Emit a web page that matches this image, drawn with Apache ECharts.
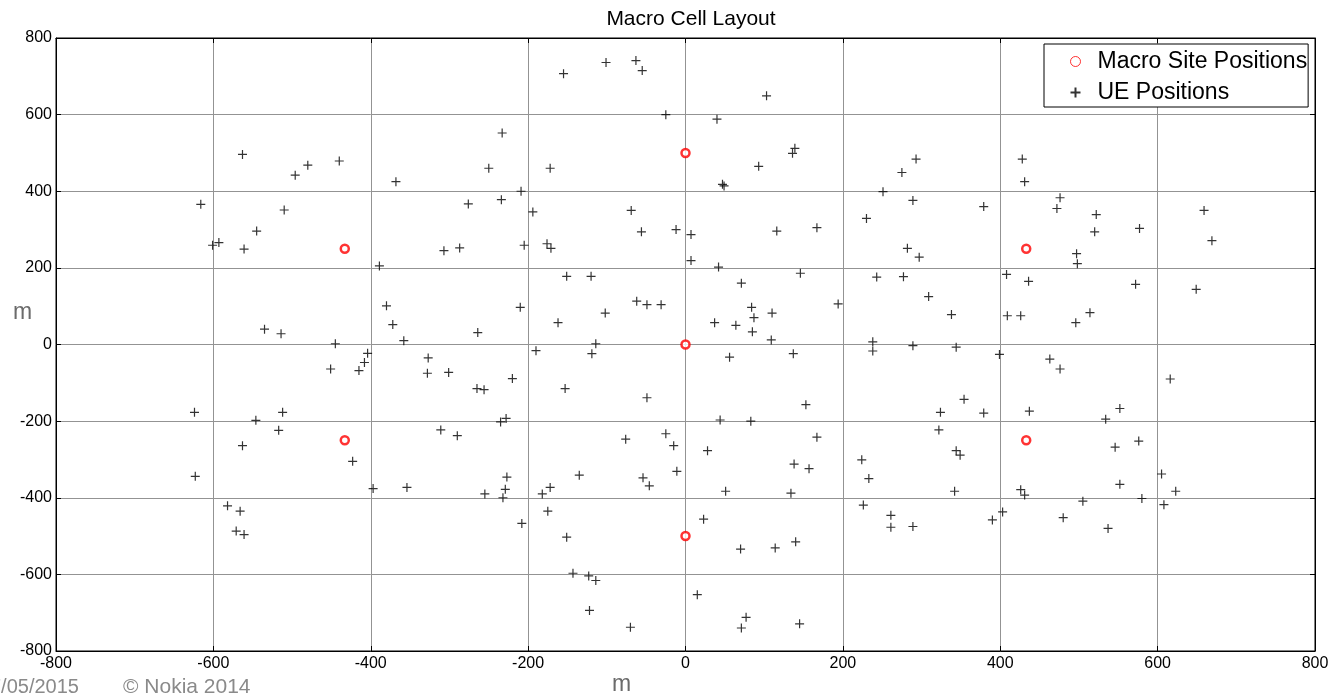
<!DOCTYPE html>
<html>
<head>
<meta charset="utf-8">
<style>
  html, body { margin: 0; padding: 0; background: #fff; }
  #chart { width: 1332px; height: 694px; }
</style>
<script src="https://cdn.jsdelivr.net/npm/echarts@6/dist/echarts.min.js"></script>
</head>
<body>
<div id="chart"></div>
<script>
// Macro site positions (m)
const siteX = [0, 0, 0, 433, 433, -433, -433];
const siteY = [0, 500, -500, 250, -250, 250, -250];

// UE positions (m)
const ueX = [
  -563, -480, -496, -440, -616, -510, -545, -601, -593, -561, -535, -514, -445,
  -101, -63, -55, -155, -25, -233, -250, -172, -368, -209, -276, -234, -194, -69, -56, -12,
  -307, -287, -205, -176, -171, -389, -151, -120, -380, -210, -62, -49, -31, -102, -372, -162,
  -264, -358, -114,
  7, 7, 103, 40, 139, 136, 93, 47, 49, 116, 167, 42, 71, 146, 84, 87, 110, 37, 64, 85, 109, 194,
  293, 275, 251, 289, 379, 230, 282, 297, 243, 277, 309, 338, 238, 238, 289, 344, 399,
  428, 431, 476, 472, 522, 520, 577, 659, 669, 497, 498, 408, 436, 572, 649, 409, 426, 514, 496,
  -404, -408, -415, -451, -624, -546, -512, -517, -563, -423, -397, -623, -582, -566, -571, -561,
  -327, -328, -301, -265, -256, -220, -235, -228, -311, -290, -354, -255, -227, -229, -232,
  -190, -119, -153, -49, -76, -25, -15, -11, -135, -54, -46, -172, -182, -175, -208, -151,
  -143, -123, -114, -122, -70,
  56, 137, 153, 44, 83, 167, 28, 138, 157, 51, 134, 23, 70, 114, 140, 15, 77, 71, 145,
  324, 354, 379, 322, 344, 349, 224, 233, 342, 226, 261, 261, 289, 390, 403,
  463, 476, 616, 437, 552, 534, 576, 546, 605, 623, 426, 431, 552, 505, 580, 608, 480, 537
];
const ueY = [
  496, 468, 442, 479, 366, 351, 296, 259, 266, 249, 40, 28, 2,
  736, 741, 715, 707, 600, 552, 460, 460, 425, 400, 367, 378, 346, 350, 294, 300,
  245, 252, 259, 263, 251, 205, 178, 178, 101, 97, 113, 104, 104, 82, 52, 57,
  31, 10, 2,
  287, 219, 649, 588, 512, 499, 465, 418, 414, 296, 305, 202, 160, 186, 97, 70, 82, 57, 50, 33, 12, 106,
  484, 449, 399, 376, 360, 329, 251, 228, 176, 177, 125, 78, 7, -17, -3, -7, -26,
  484, 425, 383, 355, 339, 294, 303, 350, 271, 237, 211, 183, 165, 157, 144, 75, 75, 83, 57,
  -23, -47, -68, -64, -177, -198, -177, -224, -264, -305, -376, -344, -421, -435, -487, -496,
  -35, -75, -73, -115, -118, -89, -202, -193, -223, -238, -373, -390, -346, -378, -400,
  -16, -24, -115, -139, -247, -233, -264, -331, -341, -348, -369, -373, -390, -435, -467, -503,
  -597, -604, -616, -694, -738,
  -33, -24, -157, -197, -200, -242, -277, -312, -324, -383, -388, -456, -534, -531, -515, -653, -712, -740, -729,
  -177, -143, -179, -223, -277, -289, -301, -350, -383, -419, -446, -477, -475, -458, -437,
  -38, -64, -90, -174, -167, -195, -252, -268, -338, -383, -379, -393, -365, -409, -402, -418, -452, -480
];

// Axis range and tick spacing
const axisMin = -800;
const axisMax = 800;
const tickStep = 200;

const siteData = siteX.map((x, i) => [x, siteY[i]]);
const ueData = ueX.map((x, i) => [x, ueY[i]]);

const FONT = '"Liberation Sans", Arial, sans-serif';
const plusSymbol = 'path://M0,5L10,5M5,0L5,10';

const chart = echarts.init(document.getElementById('chart'), null, { renderer: 'canvas' });

function mainAxis(position, showLabels) {
  return {
    type: 'value',
    position: position,
    min: axisMin,
    max: axisMax,
    interval: tickStep,
    axisLine: { show: true, onZero: false, lineStyle: { color: '#000', width: 1 } },
    axisTick: { show: true, inside: true, length: 5, lineStyle: { color: '#000', width: 1 } },
    axisLabel: {
      show: showLabels,
      color: '#000',
      fontFamily: FONT,
      fontSize: 16
    },
    splitLine: { show: showLabels, lineStyle: { color: '#939393', width: 1 } }
  };
}

const xBottom = mainAxis('bottom', true);
xBottom.axisLabel.margin = 5;
const yLeft = mainAxis('left', true);
yLeft.axisLabel.margin = 4;

chart.setOption({
  animation: false,
  backgroundColor: '#fff',
  title: {
    text: 'Macro Cell Layout',
    left: 686,
    textAlign: 'center',
    top: 4,
    textStyle: { color: '#000', fontFamily: FONT, fontSize: 21, fontWeight: 'normal' }
  },
  grid: {
    left: 56, right: 17, top: 38, bottom: 43,
    show: true, borderColor: '#000', borderWidth: 1, backgroundColor: '#fff'
  },
  xAxis: [xBottom, mainAxis('top', false)],
  yAxis: [yLeft, mainAxis('right', false)],
  legend: {
    orient: 'vertical',
    left: 1044,
    top: 44,
    padding: [5, 1, 2, 24],
    itemWidth: 10,
    itemHeight: 10,
    itemGap: 6,
    backgroundColor: '#fff',
    borderColor: '#000',
    borderWidth: 1,
    textStyle: {
      color: '#000',
      fontFamily: FONT,
      fontSize: 23,
      lineHeight: 25,
      padding: [0, 0, 0, 12]
    },
    data: [
      { name: 'Macro Site Positions', itemStyle: { color: '#fff', borderColor: '#ff0000', borderWidth: 1 } },
      { name: 'UE Positions' }
    ]
  },
  series: [
    {
      name: 'Macro Site Positions',
      type: 'scatter',
      data: siteData,
      symbol: 'circle',
      symbolSize: 8,
      z: 3,
      itemStyle: { color: '#fff', borderColor: '#ff0000', borderWidth: 2.5 }
    },
    {
      name: 'UE Positions',
      type: 'scatter',
      data: ueData,
      symbol: plusSymbol,
      symbolSize: 9,
      z: 2,
      itemStyle: { color: 'none', borderColor: '#000', borderWidth: 1.2 }
    }
  ],
  graphic: [
    {
      type: 'text', left: 13, top: 301,
      style: { text: 'm', fill: '#6b6b6b', font: '23px ' + FONT }
    },
    {
      type: 'text', left: 612, top: 673,
      style: { text: 'm', fill: '#6b6b6b', font: '23px ' + FONT }
    },
    {
      type: 'text', left: -10, top: 677,
      style: { text: '7/05/2015', fill: '#8a8a8a', font: '20px ' + FONT }
    },
    {
      type: 'text', left: 123, top: 677,
      style: { text: '\u00A9 Nokia 2014', fill: '#8a8a8a', font: '21px ' + FONT }
    }
  ]
});
</script>
</body>
</html>
